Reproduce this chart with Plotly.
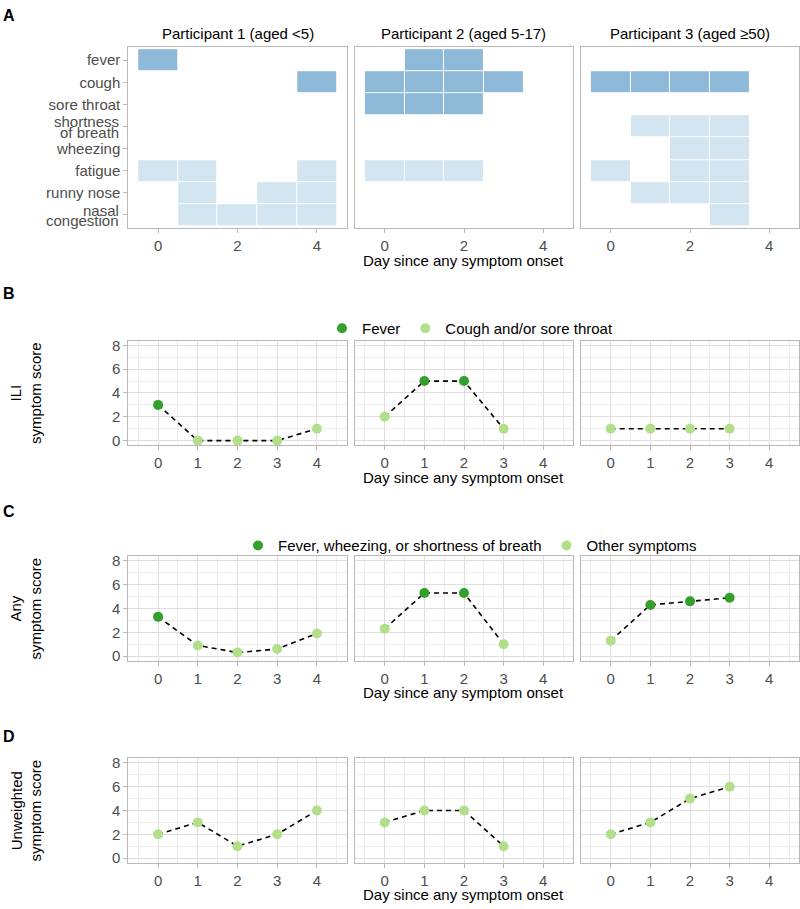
import plotly.graph_objects as go

# ---- data ----
symptoms = ["fever", "cough", "sore throat", "shortness of breath",
            "wheezing", "fatigue", "runny nose", "nasal congestion"]
ili_symptoms = ["fever", "cough", "sore throat"]
severe_symptoms = ["fever", "wheezing", "shortness of breath"]
heat_days = [0, 1, 2, 3, 4]
participants = ["Participant 1 (aged <5)", "Participant 2 (aged 5-17)", "Participant 3 (aged \u226550)"]

# days on which each symptom was reported
p1_symptoms = {"fever": [0], "cough": [4], "fatigue": [0, 1, 4],
               "runny nose": [1, 3, 4], "nasal congestion": [1, 2, 3, 4]}
p2_symptoms = {"fever": [1, 2], "cough": [0, 1, 2, 3], "sore throat": [0, 1, 2],
               "fatigue": [0, 1, 2]}
p3_symptoms = {"cough": [0, 1, 2, 3], "shortness of breath": [1, 2, 3],
               "wheezing": [2, 3], "fatigue": [0, 2, 3], "runny nose": [1, 2, 3],
               "nasal congestion": [3]}
symptom_data = [p1_symptoms, p2_symptoms, p3_symptoms]

days_p1 = [0, 1, 2, 3, 4]
days_p2 = [0, 1, 2, 3]
days_p3 = [0, 1, 2, 3]
score_days = [days_p1, days_p2, days_p3]

ili_p1 = [3, 0, 0, 0, 1]
ili_p2 = [2, 5, 5, 1]
ili_p3 = [1, 1, 1, 1]

any_p1 = [3.3, 0.9, 0.3, 0.6, 1.9]
any_p2 = [2.3, 5.3, 5.3, 1.0]
any_p3 = [1.3, 4.3, 4.6, 4.9]

unw_p1 = [2, 3, 1, 2, 4]
unw_p2 = [3, 4, 4, 1]
unw_p3 = [2, 3, 5, 6]

# ---- style ----
FONT = "Liberation Sans, Arial, sans-serif"
DARK_BLUE = "#8fb9d9"
LIGHT_BLUE = "#d2e5f1"
DARK_GREEN = "#33a02c"
LIGHT_GREEN = "#b2df8a"
BORDER = "#b8b8b8"
TICKC = "#4d4d4d"

W, H = 800, 909
cols = [(128.3, 346.7), (355, 573), (581, 799)]
rows = [(43.3, 226), (339.2, 444.8), (556.4, 662), (760, 865.5)]

fig = go.Figure()


def ax_id(r, c):
    i = r * 3 + c + 1
    return ("" if i == 1 else str(i))


def label(text, px, py, size=15, color="black", **kw):
    # text placed in pixel position of the page
    fig.add_annotation(text=text, x=px / W, y=1 - py / H, xref="paper", yref="paper",
                       showarrow=False, xanchor=kw.pop("xanchor", "center"),
                       yanchor="middle", font=dict(size=size, color=color, family=FONT), **kw)


def panel_axes(r, c, heat):
    i = ax_id(r, c)
    xd = [cols[c][0] / W, cols[c][1] / W]
    yd = [1 - rows[r][1] / H, 1 - rows[r][0] / H]
    common = dict(showline=True, mirror=True, linecolor=BORDER, linewidth=1,
                  zeroline=False, ticks="outside", ticklen=4, tickcolor=BORDER,
                  tickfont=dict(size=15, color=TICKC, family=FONT))
    xa = dict(domain=xd, anchor="y" + i, range=[-0.75, 4.75], **common)
    ya = dict(domain=yd, anchor="x" + i, **common)
    if heat:
        xa.update(tickvals=[0, 2, 4], showgrid=False)
        ya.update(range=[len(symptoms) - 0.4, -0.6], showgrid=False,
                  tickvals=list(range(len(symptoms))),
                  ticktext=["" if s in two_line else s for s in symptoms])
    else:
        xa.update(tickvals=[0, 1, 2, 3, 4], showgrid=True, gridcolor="#dedede", gridwidth=1,
                  minor=dict(dtick=0.5, showgrid=True, gridcolor="#eeeeee", gridwidth=0.6))
        ya.update(range=[-0.4, 8.4], tickvals=[0, 2, 4, 6, 8], showgrid=True,
                  gridcolor="#dedede", gridwidth=1,
                  minor=dict(dtick=1, showgrid=True, gridcolor="#eeeeee", gridwidth=0.6))
    if c > 0:
        ya.update(showticklabels=False, ticks="")
    fig.update_layout({"xaxis" + i: xa, "yaxis" + i: ya})
    return "x" + i, "y" + i


two_line = {"shortness of breath": ("shortness", "of breath"),
            "nasal congestion": ("nasal", "congestion")}

# ---- panel A: symptom tiles ----
for c, present in enumerate(symptom_data):
    z = []
    for s in symptoms:
        z.append([(2 if s in ili_symptoms else 1) if d in present.get(s, []) else None
                  for d in heat_days])
    xr, yr = panel_axes(0, c, True)
    fig.add_trace(go.Heatmap(x=heat_days, y=list(range(len(symptoms))), z=z,
                             zmin=1, zmax=2, showscale=False, xgap=1, ygap=1,
                             colorscale=[[0, LIGHT_BLUE], [0.5, LIGHT_BLUE],
                                         [0.5, DARK_BLUE], [1, DARK_BLUE]],
                             xaxis=xr, yaxis=yr, hoverinfo="skip"))

# two-line tick labels, tightly spaced as in the original
for s, (l1, l2) in two_line.items():
    k = symptoms.index(s)
    for txt, dy in ((l1, -0.22), (l2, 0.27)):
        fig.add_annotation(text=txt, x=121 / W, xref="paper", xanchor="right",
                           y=k + dy, yref="y", yanchor="middle", showarrow=False,
                           font=dict(size=15, color=TICKC, family=FONT))

# ---- panels B-D: scores ----
score_rows = [
    ([ili_p1, ili_p2, ili_p3], ili_symptoms[:1], "Fever", "Cough and/or sore throat",
     "legend", "ILI<br>symptom score"),
    ([any_p1, any_p2, any_p3], severe_symptoms, "Fever, wheezing, or shortness of breath",
     "Other symptoms", "legend2", "Any<br>symptom score"),
    ([unw_p1, unw_p2, unw_p3], [], None, "Other", None, "Unweighted<br>symptom score"),
]

for r, (series, key_syms, dark_name, light_name, leg, ytitle) in enumerate(score_rows, start=1):
    for c in range(3):
        xr, yr = panel_axes(r, c, False)
        days = score_days[c]
        vals = series[c]
        flags = [any(d in symptom_data[c].get(s, []) for s in key_syms) for d in days]
        fig.add_trace(go.Scatter(x=days, y=vals, mode="lines", xaxis=xr, yaxis=yr,
                                 line=dict(color="black", width=1.6, dash="5px,4px"),
                                 showlegend=False, hoverinfo="skip"))
        for flag, col, name in ((True, DARK_GREEN, dark_name), (False, LIGHT_GREEN, light_name)):
            xs = [d for d, f in zip(days, flags) if f == flag]
            ys = [v for v, f in zip(vals, flags) if f == flag]
            kw = dict(legend=leg) if leg else {}
            fig.add_trace(go.Scatter(x=xs, y=ys, mode="markers", xaxis=xr, yaxis=yr,
                                     marker=dict(color=col, size=10), name=name,
                                     showlegend=(leg is not None and c == 0), **kw))
    label(ytitle, 26, (rows[r][0] + rows[r][1]) / 2, textangle=-90)

# x axis titles under middle column
for r in range(4):
    label("Day since any symptom onset", 464, rows[r][1] + 32)

# strip titles
for c, name in enumerate(participants):
    label(name, (cols[c][0] + cols[c][1]) / 2, 30)

# panel letters
for letter, py in zip("ABCD", [12, 292, 511, 738]):
    label("<b>%s</b>" % letter, 1, py, size=16, xanchor="left")

legend_style = dict(orientation="h", xanchor="center", yanchor="middle", x=470 / W,
                    font=dict(size=15, color="black", family=FONT), itemwidth=30,
                    bgcolor="rgba(0,0,0,0)")
fig.update_layout(
    width=W, height=H, margin=dict(l=0, r=0, t=0, b=0),
    paper_bgcolor="white", plot_bgcolor="white",
    font=dict(family=FONT),
    legend=dict(y=1 - 327 / H, **legend_style),
    legend2=dict(y=1 - 546 / H, **legend_style),
)

fig.write_html("out.html", config={"displayModeBar": False},
               post_script="document.body.style.margin='0';document.body.style.overflow='hidden';")
